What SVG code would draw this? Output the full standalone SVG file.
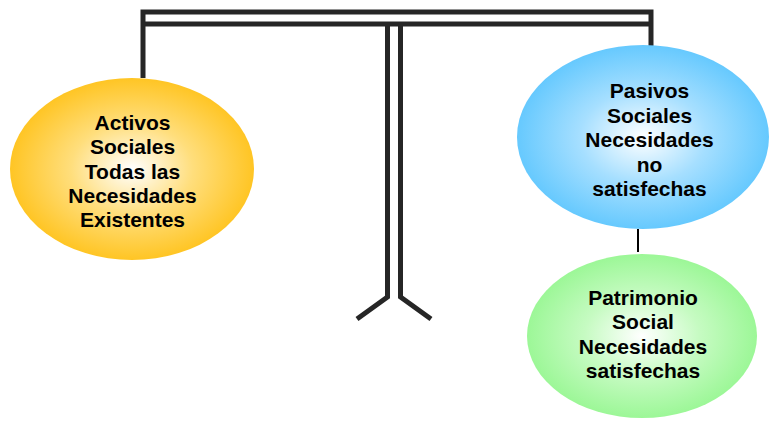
<svg xmlns="http://www.w3.org/2000/svg" width="769" height="422" viewBox="0 0 769 422">
<defs>
<radialGradient id="gy" cx="50%" cy="50%" r="50%"><stop offset="0" stop-color="#ffffff"/><stop offset="0.5" stop-color="#ffde7c"/><stop offset="1" stop-color="#ffc524"/></radialGradient>
<radialGradient id="gb" cx="50%" cy="50%" r="50%"><stop offset="0" stop-color="#ffffff"/><stop offset="0.5" stop-color="#a6dfff"/><stop offset="1" stop-color="#66c9fe"/></radialGradient>
<radialGradient id="gg" cx="50%" cy="50%" r="50%"><stop offset="0" stop-color="#ffffff"/><stop offset="0.5" stop-color="#c6fbc2"/><stop offset="1" stop-color="#9cf797"/></radialGradient>
</defs>
<style>
.bar{fill:none;stroke:#262626;stroke-width:5;stroke-linecap:butt;stroke-linejoin:miter}
.thin{fill:none;stroke:#000;stroke-width:2}
.t{font-family:"Liberation Sans",Arial,sans-serif;font-weight:bold;font-size:21px;text-anchor:middle;fill:#000}
</style>
<g id="connectors">
<path class="bar" d="M143,78 V12 H651 V46"/>
<path class="bar" d="M143,24 H651"/>
<path class="bar" d="M387.5,24 V297 L357,319"/>
<path class="bar" d="M400.5,24 V297 L431,319"/>
<path class="thin" d="M638,229 V252"/>
</g>
<g id="activos">
<ellipse cx="132" cy="169" rx="122" ry="91" fill="url(#gy)"/>
<text class="t" x="132.5" y="130">Activos</text>
<text class="t" x="132.5" y="154">Sociales</text>
<text class="t" x="132.5" y="178.5">Todas las</text>
<text class="t" x="132.5" y="203">Necesidades</text>
<text class="t" x="132.5" y="227">Existentes</text>
</g>
<g id="pasivos">
<ellipse cx="643" cy="137" rx="126" ry="92" fill="url(#gb)"/>
<text class="t" x="649.5" y="98">Pasivos</text>
<text class="t" x="649.5" y="122.5">Sociales</text>
<text class="t" x="649.5" y="147">Necesidades</text>
<text class="t" x="649.5" y="171.5">no</text>
<text class="t" x="649.5" y="195.5">satisfechas</text>
</g>
<g id="patrimonio">
<ellipse cx="642" cy="336" rx="115" ry="82" fill="url(#gg)"/>
<text class="t" x="643" y="305">Patrimonio</text>
<text class="t" x="643" y="329">Social</text>
<text class="t" x="643" y="353.5">Necesidades</text>
<text class="t" x="643" y="378">satisfechas</text>
</g>
</svg>
